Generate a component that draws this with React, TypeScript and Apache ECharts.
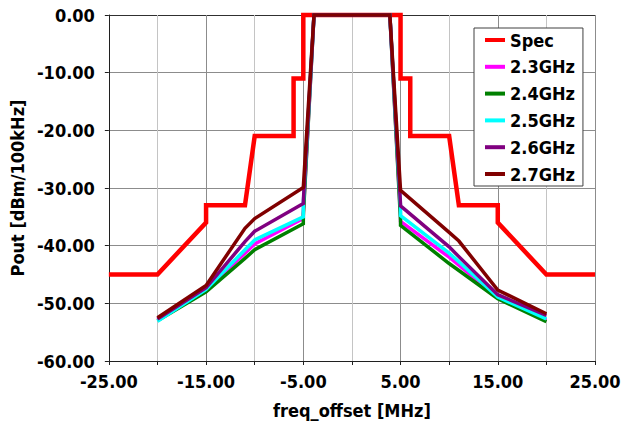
import React, { useEffect, useRef } from "react";
import * as echarts from "echarts";

const specOffsets = [-25, -20, -15, -15, -11, -10, -6, -6, -5, -5, 5, 5, 6, 6, 10, 11, 15, 15, 20, 25];
const specValues = [-45, -45, -36, -33, -33, -21, -21, -11, -11, 0, 0, -11, -11, -21, -21, -33, -33, -36, -45, -45];

const offsets = [-20, -15, -11, -10, -5, -5, -3.9, 3.9, 5, 5, 10, 11, 15, 20];
const f23 = [-52.9, -47.5, -41.3, -39.7, -35.3, -34.3, 0, 0, -34.8, -35.8, -42.0, -43.4, -49.0, -52.9];
const f24 = [-53.0, -48.0, -42.2, -40.7, -36.2, -34.9, 0, 0, -35.6, -36.5, -43.1, -44.3, -49.2, -53.2];
const f25 = [-53.1, -47.6, -40.7, -39.0, -35.0, -32.8, 0, 0, -33.3, -34.8, -41.3, -42.8, -48.9, -52.7];
const f26 = [-52.7, -47.3, -39.3, -37.5, -32.7, -32.4, 0, 0, -32.9, -33.1, -40.2, -41.9, -48.5, -52.1];
const f27 = [-52.5, -46.9, -37.0, -35.3, -29.9, -29.9, 0, 0, -30.4, -30.4, -37.7, -39.2, -47.7, -51.8];

const seriesNames = ["Spec", "2.3GHz", "2.4GHz", "2.5GHz", "2.6GHz", "2.7GHz"];
const seriesColors = ["#ff0000", "#ff00ff", "#008000", "#00ffff", "#800080", "#800000"];

const FONT = '"DejaVu Sans Condensed", "Liberation Sans Narrow", sans-serif';

export default function App() {
  const ref = useRef<HTMLDivElement>(null);
  useEffect(() => {
    if (!ref.current) return;
    const chart = echarts.init(ref.current, null, { renderer: "svg" });
    const measured = [f23, f24, f25, f26, f27];
    const series: any[] = [
      {
        name: seriesNames[0],
        type: "line",
        data: specOffsets.map((x, i) => [x, specValues[i]]),
        showSymbol: false,
        symbol: "none",
        clip: false,
        lineStyle: { color: seriesColors[0], width: 4.5, join: "miter" },
        itemStyle: { color: seriesColors[0] },
      },
      ...measured.map((vals, k) => ({
        name: seriesNames[k + 1],
        type: "line",
        data: offsets.map((x, i) => [x, vals[i]]),
        showSymbol: false,
        symbol: "none",
        clip: false,
        lineStyle: { color: seriesColors[k + 1], width: 3.5, join: "miter" },
        itemStyle: { color: seriesColors[k + 1] },
      })),
    ];
    chart.setOption({
      animation: false,
      backgroundColor: "#ffffff",
      grid: { left: 108, top: 15, right: 36, bottom: 66, containLabel: false },
      legend: {
        orient: "vertical",
        left: 474,
        top: 28,
        icon: "rect",
        itemWidth: 20,
        itemHeight: 4,
        itemGap: 8.8,
        padding: [3, 8, 3, 11],
        backgroundColor: "#ffffff",
        borderColor: "#404040",
        borderWidth: 1,
        borderRadius: 0,
        textStyle: { fontFamily: FONT, fontWeight: "bold", fontSize: 18, color: "#000" },
        data: seriesNames,
      },
      xAxis: {
        type: "value",
        min: -25,
        max: 25,
        interval: 10,
        name: "freq_offset [MHz]",
        nameLocation: "middle",
        nameGap: 40,
        nameTextStyle: { fontFamily: FONT, fontWeight: "bold", fontSize: 18, color: "#000" },
        axisLine: { show: true, onZero: false, lineStyle: { color: "#202020", width: 1 } },
        axisTick: { show: true, length: 4, lineStyle: { color: "#202020" } },
        minorTick: { show: true, splitNumber: 2, length: 4, lineStyle: { color: "#202020" } },
        axisLabel: {
          margin: 11,
          fontFamily: FONT,
          fontWeight: "bold",
          fontSize: 18,
          color: "#000",
          formatter: (v: number) => v.toFixed(2),
        },
        splitLine: { show: true, lineStyle: { color: "#8c8c8c", width: 1 } },
        minorSplitLine: { show: true, lineStyle: { color: "#c4c4c4", width: 1 } },
      },
      yAxis: {
        type: "value",
        min: -60,
        max: 0,
        interval: 10,
        name: "Pout [dBm/100kHz]",
        nameLocation: "middle",
        nameGap: 68,
        nameTextStyle: { fontFamily: FONT, fontWeight: "bold", fontSize: 18, color: "#000" },
        axisLine: { show: true, onZero: false, lineStyle: { color: "#202020", width: 1 } },
        axisTick: { show: true, length: 4, lineStyle: { color: "#202020" } },
        axisLabel: {
          margin: 14,
          fontFamily: FONT,
          fontWeight: "bold",
          fontSize: 18,
          color: "#000",
          formatter: (v: number) => v.toFixed(2),
        },
        splitLine: {
          show: true,
          lineStyle: {
            color: ["#8c8c8c", "#8c8c8c", "#8c8c8c", "#8c8c8c", "#8c8c8c", "#8c8c8c", "#303030"],
            width: 1,
          },
        },
      },
      series,
    });
    return () => chart.dispose();
  }, []);
  return (
    <div
      ref={ref}
      style={{ position: "fixed", left: 0, top: 0, width: 631, height: 427 }}
    />
  );
}
